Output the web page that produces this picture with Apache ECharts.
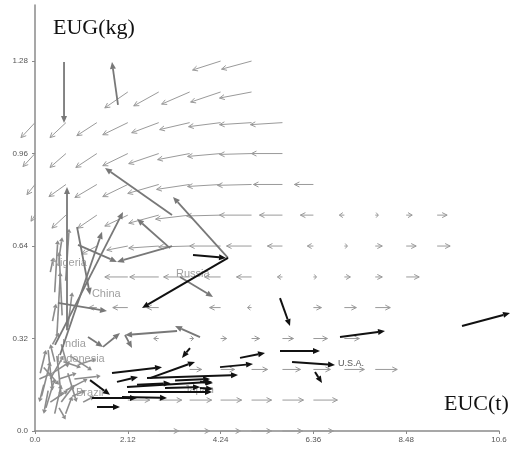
<!DOCTYPE html>
<html><head><meta charset="utf-8">
<script src="https://cdn.jsdelivr.net/npm/echarts@6/dist/echarts.min.js"></script>
<style>html,body{margin:0;padding:0;background:#fff}#c{width:510px;height:453px}</style>
</head><body><div id="c"></div>
<script>
// ---- axes ----
const xTicks = [0, 2.12, 4.24, 6.36, 8.48, 10.6];
const yTicks = [0, 0.32, 0.64, 0.96, 1.28];

// ---- vector field grid (tail positions) ----
const fieldCols = [0, 0.707, 1.413, 2.12, 2.827, 3.533, 4.24, 4.947, 5.653, 6.36, 7.067, 7.773, 8.48, 9.187, 9.893];
const fieldRows = [0, 0.107, 0.213, 0.32, 0.427, 0.533, 0.64, 0.747, 0.853, 0.96, 1.067, 1.173, 1.28];
// [col, row, u, v]
const fieldVectors = [
  [6,12,-0.64,-0.031],[7,12,-0.685,-0.028],
  [3,11,-0.525,-0.055],[4,11,-0.571,-0.048],[5,11,-0.64,-0.042],[6,11,-0.685,-0.035],[7,11,-0.731,-0.021],
  [0,10,-0.32,-0.052],[1,10,-0.365,-0.052],[2,10,-0.457,-0.045],[3,10,-0.571,-0.042],[4,10,-0.617,-0.035],[5,10,-0.685,-0.024],[6,10,-0.731,-0.014],[7,10,-0.731,-0.007],[8,10,-0.731,-0.007],
  [0,9,-0.274,-0.045],[1,9,-0.365,-0.048],[2,9,-0.48,-0.048],[3,9,-0.571,-0.042],[4,9,-0.685,-0.035],[5,9,-0.731,-0.021],[6,9,-0.754,-0.01],[7,9,-0.731,-0.003],[8,9,-0.708,0],
  [0,8,-0.183,-0.035],[1,8,-0.388,-0.042],[2,8,-0.502,-0.045],[3,8,-0.571,-0.042],[4,8,-0.708,-0.031],[5,8,-0.754,-0.017],[6,8,-0.754,-0.007],[7,8,-0.777,-0.003],[8,8,-0.662,0],[9,8,-0.434,0],
  [0,7,-0.091,-0.021],[1,7,-0.32,-0.045],[2,7,-0.434,-0.045],[3,7,-0.525,-0.038],[4,7,-0.685,-0.028],[5,7,-0.777,-0.014],[6,7,-0.777,-0.003],[7,7,-0.731,0],[8,7,-0.525,0],[9,7,-0.297,0],[10,7,-0.114,0],[11,7,0.069,0],[12,7,0.137,0],[13,7,0.228,0],
  [2,6,-0.343,-0.028],[3,6,-0.48,-0.014],[4,6,-0.685,-0.007],[5,6,-0.708,-0.003],[6,6,-0.708,0],[7,6,-0.571,0],[8,6,-0.343,0],[9,6,-0.137,0],[10,6,0.069,0],[11,6,0.16,0],[12,6,0.228,0],[13,6,0.297,0],
  [3,5,-0.525,0],[4,5,-0.662,0],[5,5,-0.594,0],[6,5,-0.365,0],[7,5,-0.343,0],[8,5,-0.114,0],[9,5,0.069,0],[10,5,0.137,0],[11,5,0.16,0],[12,5,0.297,0],
  [2,4,-0.183,0],[3,4,-0.343,0],[4,4,-0.274,0],[6,4,-0.251,0],[7,4,-0.091,0],[9,4,0.183,0],[10,4,0.274,0],[11,4,0.343,0],
  [4,3,-0.114,0],[5,3,0.091,0],[6,3,0.137,0],[7,3,0.183,0],[8,3,0.251,0],[9,3,0.32,0],[10,3,0.343,0],
  [5,2,0.274,0],[6,2,0.32,0],[7,2,0.365,0],[8,2,0.411,0],[9,2,0.388,0],[10,2,0.457,0],[11,2,0.502,0],
  [3,1,0.502,0],[4,1,0.525,0],[5,1,0.502,0],[6,1,0.48,0],[7,1,0.457,0],[8,1,0.48,0],[9,1,0.548,0],
  [4,0,0.457,0],[5,0,0.457,0],[6,0,0.457,0],[7,0,0.457,0],[8,0,0.457,0],[9,0,0.457,0]
];

// ---- country trajectories: [x1, y1, x2, y2] ----
const grayTracks = [
  [0.663,1.277,0.663,1.066],[1.896,1.128,1.759,1.277],[3.130,0.747,1.599,0.910],
  [4.409,0.599,3.153,0.810],[0.731,0.349,0.731,0.844],[0.457,0.298,2.010,0.758],
  [0.571,0.263,1.531,0.689],[0.960,0.706,1.257,0.471],[3.084,0.633,2.330,0.734],
  [0.982,0.644,1.873,0.585],[3.130,0.640,1.873,0.585],[3.313,0.533,4.067,0.464],
  [3.770,0.325,3.199,0.363],[3.245,0.346,2.056,0.332],[1.211,0.325,1.554,0.291],
  [1.554,0.291,1.942,0.339],[2.056,0.332,2.216,0.287],[0.525,0.443,1.645,0.415]
];
const blackTracks = [
  [1.759,0.201,2.902,0.221],[2.627,0.183,3.655,0.239],[2.559,0.183,4.638,0.194],
  [4.684,0.253,5.255,0.270],[5.597,0.277,6.511,0.277],[6.968,0.325,7.996,0.346],
  [5.872,0.239,6.854,0.228],[5.597,0.460,5.826,0.363],[6.397,0.204,6.557,0.166],
  [9.755,0.363,10.852,0.408],[4.227,0.221,4.981,0.232],[3.610,0.609,4.364,0.599],
  [4.409,0.599,2.445,0.426],[1.873,0.170,2.353,0.187],[2.102,0.152,4.044,0.170],
  [2.125,0.135,4.044,0.135],[1.302,0.114,2.330,0.114],[1.988,0.118,3.016,0.114],
  [1.416,0.083,1.942,0.083],[1.257,0.176,1.713,0.125],[3.541,0.287,3.358,0.253],
  [3.770,0.170,4.067,0.166],[3.770,0.149,4.067,0.145],[2.970,0.149,3.770,0.152],
  [2.330,0.160,3.100,0.165],[3.200,0.175,4.000,0.180]
];
const clusterTracks = [
  [0.10,0.18,0.40,0.20],[0.15,0.12,0.35,0.24],[0.20,0.22,0.55,0.16],[0.25,0.08,0.45,0.18],
  [0.30,0.28,0.40,0.14],[0.35,0.10,0.75,0.14],[0.40,0.20,0.80,0.24],[0.45,0.06,0.60,0.16],
  [0.50,0.26,0.60,0.12],[0.55,0.18,0.95,0.20],[0.60,0.10,0.90,0.16],[0.65,0.24,1.05,0.22],
  [0.70,0.14,1.20,0.18],[0.75,0.20,0.95,0.10],[0.80,0.26,1.30,0.21],[0.85,0.12,1.15,0.14],
  [0.20,0.16,0.10,0.10],[0.30,0.14,0.20,0.06],[0.45,0.24,0.35,0.30],[0.55,0.08,0.70,0.04],
  [0.90,0.18,1.50,0.19],[1.00,0.23,1.40,0.25],[0.12,0.20,0.25,0.28],[0.40,0.30,0.55,0.34],
  [0.60,0.30,0.75,0.22],[0.35,0.18,0.65,0.26],[0.70,0.06,0.85,0.12],[1.10,0.10,1.35,0.12],
  [0.50,0.33,0.58,0.55],[0.62,0.40,0.55,0.62],[0.45,0.48,0.52,0.66],[0.70,0.52,0.78,0.70],
  [0.35,0.55,0.42,0.60],[0.55,0.60,0.62,0.67],[0.40,0.38,0.48,0.44],[0.75,0.36,0.85,0.48]
];

// ---- country labels ----
const labelNames = ['Nigeria','China','Russia','India','Indonesia','Brazil','Japan','U.S.A.'];
const labelX = [0.39, 1.30, 3.22, 0.617, 0.503, 0.937, 3.404, 6.92];
const labelY = [0.581, 0.474, 0.543, 0.301, 0.249, 0.131, 0.142, 0.235];

function makeArrow(color, width, headLen, headW, filled) {
  return function (params, api) {
    const a = api.coord([api.value(0), api.value(1)]);
    const b = api.coord([api.value(2), api.value(3)]);
    const dx = b[0] - a[0], dy = b[1] - a[1];
    const len = Math.hypot(dx, dy) || 1;
    const ux = dx / len, uy = dy / len;
    const hl = Math.min(headLen, len * 0.7);
    const bx = b[0] - ux * hl, by = b[1] - uy * hl;
    const px = -uy * headW, py = ux * headW;
    const children = [{
      type: 'line',
      shape: { x1: a[0], y1: a[1], x2: filled ? bx : b[0], y2: filled ? by : b[1] },
      style: { stroke: color, lineWidth: width }
    }];
    if (filled) {
      children.push({ type: 'polygon', shape: { points: [[b[0], b[1]], [bx + px, by + py], [bx - px, by - py]] }, style: { fill: color } });
    } else {
      children.push({ type: 'polyline', shape: { points: [[bx + px, by + py], [b[0], b[1]], [bx - px, by - py]] }, style: { stroke: color, lineWidth: width, fill: null } });
    }
    return { type: 'group', children: children };
  };
}

const fieldData = fieldVectors.map(function (f) {
  const x = fieldCols[f[0]], y = fieldRows[f[1]];
  return [x, y, x + f[2], y + f[3]];
});

const chart = echarts.init(document.getElementById('c'), null, { renderer: 'canvas' });
const fmtX = function (v) { return v === 0 ? '0.0' : (v >= 10 ? v.toFixed(1) : v.toFixed(2)); };
const fmtY = function (v) { return v === 0 ? '0.0' : v.toFixed(2); };

chart.setOption({
  animation: false,
  backgroundColor: '#fff',
  grid: { left: 35, right: 11, top: 5, bottom: 22, containLabel: false },
  xAxis: {
    type: 'value', min: 0, max: 10.6, interval: 2.12,
    axisLine: { lineStyle: { color: '#8a8a8a', width: 1.5 } },
    axisTick: { show: true, length: 3, customValues: xTicks, lineStyle: { color: '#8a8a8a' } },
    axisLabel: { customValues: xTicks, formatter: fmtX, fontSize: 8, color: '#555', margin: 5, fontFamily: 'Liberation Sans' },
    splitLine: { show: false }
  },
  yAxis: {
    type: 'value', min: 0, max: 1.474, interval: 0.32,
    axisLine: { show: true, lineStyle: { color: '#8a8a8a', width: 1.5 } },
    axisTick: { show: true, length: 3, customValues: yTicks, lineStyle: { color: '#8a8a8a' } },
    axisLabel: { customValues: yTicks, formatter: fmtY, fontSize: 8, color: '#555', margin: 7, fontFamily: 'Liberation Sans' },
    splitLine: { show: false }
  },
  graphic: [
    { type: 'text', left: 53, top: 17, style: { text: 'EUG(kg)', font: '22px "Liberation Serif"', fill: '#111' } },
    { type: 'text', left: 444, top: 393, style: { text: 'EUC(t)', font: '22px "Liberation Serif"', fill: '#111' } }
  ],
  series: [
    { type: 'custom', name: 'field', clip: false, z: 1, data: fieldData, encode: { x: [0, 2], y: [1, 3] },
      renderItem: makeArrow('#9a9a9a', 1, 5, 2.5, false) },
    { type: 'custom', name: 'cluster', clip: false, z: 2, data: clusterTracks, encode: { x: [0, 2], y: [1, 3] },
      renderItem: makeArrow('#8c8c8c', 1.6, 4, 2.5, true) },
    { type: 'custom', name: 'labels', clip: false, z: 3,
      data: labelX.map(function (x, i) { return [x, labelY[i]]; }),
      renderItem: function (params, api) {
        const p = api.coord([api.value(0), api.value(1)]);
        const isUS = labelNames[params.dataIndex] === 'U.S.A.';
        return { type: 'text', x: p[0], y: p[1], style: {
          text: labelNames[params.dataIndex], fill: isUS ? '#555' : '#a0a0a0',
          font: (isUS ? '9px' : '11px') + ' "Liberation Sans"', verticalAlign: 'middle', align: 'left' } };
      } },
    { type: 'custom', name: 'gray', clip: false, z: 4, data: grayTracks, encode: { x: [0, 2], y: [1, 3] },
      renderItem: makeArrow('#787878', 1.8, 7, 3, true) },
    { type: 'custom', name: 'black', clip: false, z: 5, data: blackTracks, encode: { x: [0, 2], y: [1, 3] },
      renderItem: makeArrow('#111', 2, 7, 3, true) }
  ]
});
</script></body></html>
